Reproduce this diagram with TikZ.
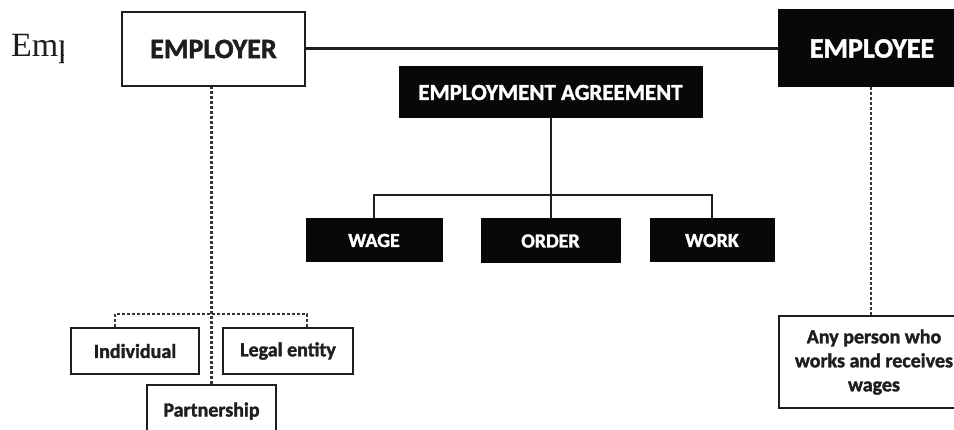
\documentclass[tikz,border=0pt]{standalone}
\usepackage{fontspec}
\setmainfont{Liberation Serif}
\newfontfamily\labfont{Carlito}[BoldFeatures={FakeBold=1.6}]
\definecolor{ink}{HTML}{1E1E1E}
\definecolor{boxblack}{HTML}{080808}
\tikzset{
  wbox/.style={draw=ink, fill=white, line width=2pt, text=ink, inner sep=0pt,
    font=\labfont\bfseries, align=center},
  bbox/.style={draw=boxblack, fill=boxblack, line width=1pt, text=white, inner sep=0pt,
    font=\labfont\bfseries},
  solidcon/.style={draw=ink, line width=2pt},
  maincon/.style={draw=ink, line width=3pt},
  dashcon/.style={draw=ink!90, line width=2.2pt, dash pattern=on 3pt off 2pt}
}
\begin{document}
\begin{tikzpicture}[x=1pt,y=-1pt]
\useasboundingbox (0,0) rectangle (954,430);
\begin{scope}
\clip (0,0) rectangle (954,430);
% clipped leading text
\begin{scope}
\clip (0,0) rectangle (63,430);
\node[anchor=base west, inner sep=0pt, font=\fontsize{34}{40}\selectfont, text=ink] (emp) at (11,57) {Emp};
\end{scope}

% top boxes
\node[wbox, minimum width=183pt, minimum height=74pt, font=\labfont\bfseries\fontsize{28}{32}\selectfont] (employer) at (213.5,49) {EMPLOYER};
\node[bbox, minimum width=188pt, minimum height=77pt, font=\labfont\bfseries\fontsize{28}{32}\selectfont] (employee) at (872,48.5) {EMPLOYEE};
\node[bbox, minimum width=303pt, minimum height=51pt, font=\labfont\bfseries\fontsize{23}{28}\selectfont] (agree) at (550.5,92.5) {EMPLOYMENT AGREEMENT};

% middle boxes
\node[bbox, minimum width=136pt, minimum height=43pt, font=\labfont\bfseries\fontsize{20}{24}\selectfont] (wage) at (374,240.5) {WAGE};
\node[bbox, minimum width=139pt, minimum height=44pt, font=\labfont\bfseries\fontsize{20}{24}\selectfont] (order) at (550.5,241) {ORDER};
\node[bbox, minimum width=124pt, minimum height=43pt, font=\labfont\bfseries\fontsize{20}{24}\selectfont] (work) at (712,240.5) {WORK};

% bottom boxes
\node[wbox, minimum width=128pt, minimum height=46pt, font=\labfont\bfseries\fontsize{20}{24}\selectfont] (indiv) at (135,351) {Individual};
\node[wbox, minimum width=130pt, minimum height=46pt, font=\labfont\bfseries\fontsize{20}{24}\selectfont] (legal) at (288,351) {Legal entity};
\node[wbox, minimum width=129pt, minimum height=60pt, font=\labfont\bfseries\fontsize{20}{24}\selectfont, text depth=11pt] (partner) at (211.5,415) {Partnership};
\node[wbox, minimum width=190pt, minimum height=92pt, font=\labfont\bfseries\fontsize{20}{24}\selectfont] (anyp) at (874,362) {Any person who\\works and receives\\wages};

% connectors
\path[maincon] (employer.east) -- (employer.east -| employee.west);
\coordinate (bus) at (551,195);
\path[solidcon] (agree.south) -- (order.north);
\path[solidcon] (wage.north) |- (bus) -| (work.north);
\path[dashcon] (partner.north) -- (partner.north |- employer.south);
\coordinate (lbus) at (211,314);
\path[dashcon] ([xshift=-20pt]indiv.north) |- (lbus) -| ([xshift=19pt]legal.north);
\path[dashcon] ([xshift=-3pt]anyp.north) -- ([xshift=-3pt]anyp.north |- employee.south);
\end{scope}
\end{tikzpicture}
\end{document}
